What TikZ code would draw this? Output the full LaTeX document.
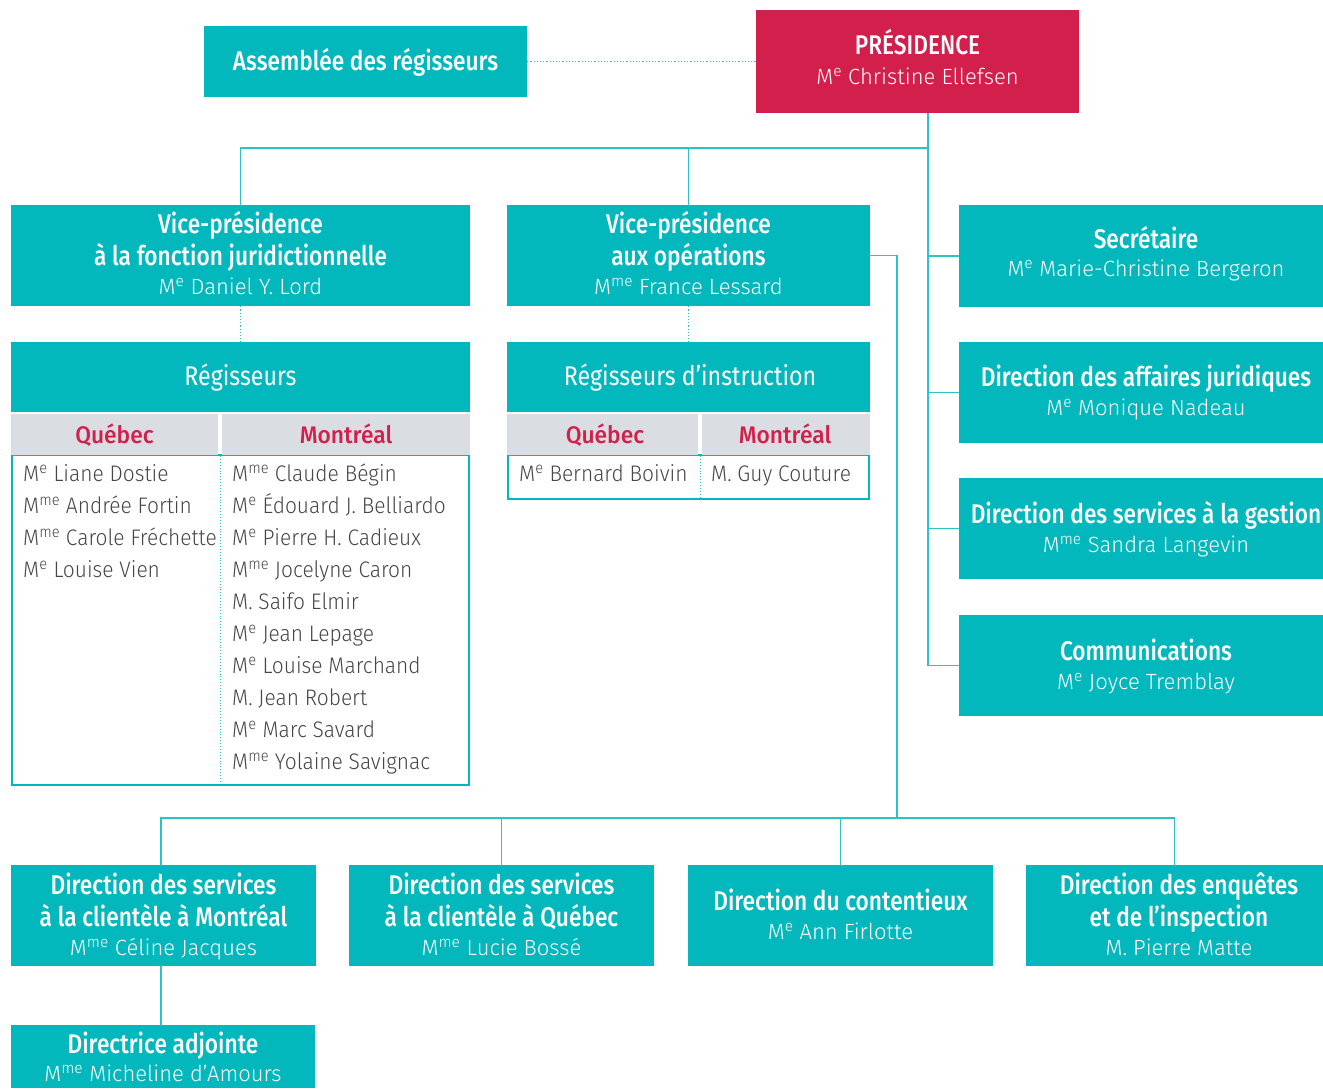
\documentclass[tikz,border=0pt]{standalone}
\usepackage{fontspec}
\setmainfont{Fira Sans}
\newfontfamily\headfont{Fira Sans Medium}[FakeStretch=0.84]
\newfontfamily\ctyfont{Fira Sans Medium}[FakeStretch=0.95]
\newfontfamily\reghfont{Fira Sans}[FakeStretch=0.86]
\newfontfamily\namefont{Fira Sans Light}
\newfontfamily\listfont{Fira Sans Light}[FakeStretch=0.93]
\definecolor{ctl}{HTML}{03B8BD}
\definecolor{cred}{HTML}{D31F4C}
\definecolor{cgray}{HTML}{DADEE2}
\definecolor{ctext}{HTML}{464646}
\definecolor{cline}{HTML}{2CC3C7}
\newcommand{\Me}{M\textsuperscript{e}}
\newcommand{\Mme}{M\textsuperscript{me}}
\begin{document}
\begin{tikzpicture}[x=1pt,y=-1pt,
  box/.style={fill=ctl, inner sep=0, minimum width=#1},
  redbox/.style={fill=cred, inner sep=0, minimum width=#1},
  graybox/.style={fill=cgray, inner sep=0, minimum width=#1, minimum height=41},
  listbox/.style={draw=ctl, line width=1.2pt, inner sep=0, minimum width=#1},
  hd/.style={font=\headfont\fontsize{27}{32}\selectfont, text=white, anchor=base, inner sep=0},
  rh/.style={font=\reghfont\fontsize{27}{32}\selectfont, text=white, anchor=base, inner sep=0},
  nm/.style={font=\namefont\fontsize{22}{26}\selectfont, text=white, anchor=base, inner sep=0},
  li/.style={font=\listfont\fontsize{22.5}{26}\selectfont, text=ctext, anchor=base west, inner sep=0},
  cty/.style={font=\ctyfont\fontsize{24}{26}\selectfont, text=cred, anchor=base, inner sep=0},
  conn/.style={draw=cline, line width=1.5pt},
  dconn/.style={draw=cline, line width=1.2pt, dotted},
]
\useasboundingbox (0,0) rectangle (1323,1088);
% boxes
\node[box=323, minimum height=71] (assem) at (365.5,61.5) {};
\node[redbox=323, minimum height=103] (pres) at (917.5,61.5) {};
\node[box=459, minimum height=101] (vp1) at (240.5,255.5) {};
\node[box=363, minimum height=101] (vp2) at (688.5,255.5) {};
\node[box=364, minimum height=102] (sec) at (1141,256) {};
\node[box=364, minimum height=101] (aff) at (1141,392.5) {};
\node[box=364, minimum height=101] (gest) at (1141,528.5) {};
\node[box=364, minimum height=101] (comm) at (1141,665.5) {};
% Régisseurs
\node[listbox=457, minimum height=330] (reglist) at (240.5,620) {};
\node[box=459, minimum height=70] (reg) at (240.5,377) {};
\node[graybox=207] (regq) at (114.5,434.5) {};
\node[graybox=248] (regm) at (346,434.5) {};
\coordinate (regdt) at (220,456);
\coordinate (regdb) at (220,783);
% Régisseurs d'instruction
\node[listbox=361, minimum height=44] (ridlist) at (688.5,477) {};
\node[box=363, minimum height=70] (rid) at (688.5,377) {};
\node[graybox=191] (ridq) at (602.5,434.5) {};
\node[graybox=168] (ridm) at (786,434.5) {};
\coordinate (riddt) at (700,456);
\coordinate (riddb) at (700,498);
% bottom
\node[box=305, minimum height=101] (d1) at (163.5,915.5) {};
\node[box=305, minimum height=101] (d2) at (501.5,915.5) {};
\node[box=305, minimum height=101] (d3) at (840.5,915.5) {};
\node[box=297, minimum height=101] (d4) at (1174.5,915.5) {};
\node[box=304, minimum height=63] (dadj) at (163,1056.5) {};
% connectors
\coordinate (hub) at (928,148);
\coordinate (vj) at (897,818);
\coordinate (b1) at (161,818);
\draw[dconn] (assem.east) -- (pres.west);
\draw[conn] (pres.south -| hub) -- (hub |- comm.west) -- (comm.west);
\draw[conn] (hub |- sec.west) -- (sec.west);
\draw[conn] (hub |- aff.west) -- (aff.west);
\draw[conn] (hub |- gest.west) -- (gest.west);
\draw[conn] (vp1.north) |- (hub);
\draw[conn] (vp2.north) -- (vp2.north |- hub);
\draw[conn] (vp2.east) -| (vj);
\draw[conn] (b1 |- d1.north) -- (b1) -- (d4.north |- vj) -- (d4.north);
\draw[conn] (d2.north) -- (d2.north |- vj);
\draw[conn] (d3.north) -- (d3.north |- vj);
\draw[conn] (b1 |- d1.south) -- (b1 |- dadj.north);
\draw[dconn] (vp1.south) -- (reg.north);
\draw[dconn] (vp2.south) -- (rid.north);
\draw[draw=cline, line width=0.9pt, dotted] (regdt) -- (regdb);
\draw[draw=cline, line width=0.9pt, dotted] (riddt) -- (riddb);
% texts
\node[hd] (t-assem) at (365.5,70) {Assemblée des régisseurs};
\node[hd] (t-pres1) at (917.5,54) {PRÉSIDENCE};
\node[nm] (t-pres2) at (917.5,84) {\Me{} Christine Ellefsen};
\node[hd] (t-vp1a) at (240.5,233) {Vice-présidence};
\node[hd] (t-vp1b) at (240.5,265) {à la fonction juridictionnelle};
\node[nm] (t-vp1c) at (240.5,294) {\Me{} Daniel Y. Lord};
\node[hd] (t-vp2a) at (688.5,233) {Vice-présidence};
\node[hd] (t-vp2b) at (688.5,265) {aux opérations};
\node[nm] (t-vp2c) at (688.5,294) {\Mme{} France Lessard};
\node[hd] (t-seca) at (1146,248) {Secrétaire};
\node[nm] (t-secb) at (1146,276) {\Me{} Marie-Christine Bergeron};
\node[hd] (t-affa) at (1146,386) {Direction des affaires juridiques};
\node[nm] (t-affb) at (1146,415) {\Me{} Monique Nadeau};
\node[hd] (t-gesta) at (1146,523) {Direction des services à la gestion};
\node[nm] (t-gestb) at (1146,552) {\Mme{} Sandra Langevin};
\node[hd] (t-comma) at (1146,660) {Communications};
\node[nm] (t-commb) at (1146,689) {\Me{} Joyce Tremblay};
\node[rh] (t-reg) at (240.5,385) {Régisseurs};
\node[cty] (t-regq) at (114.5,443) {Québec};
\node[cty] (t-regm) at (346,443) {Montréal};
\node[rh] (t-rid) at (690,385) {Régisseurs d’instruction};
\node[cty] (t-ridq) at (605,443) {Québec};
\node[cty] (t-ridm) at (785,443) {Montréal};
\node[li] (q1) at (23,481) {\Me{} Liane Dostie};
\node[li] (q2) at (23,513) {\Mme{} Andrée Fortin};
\node[li] (q3) at (23,545) {\Mme{} Carole Fréchette};
\node[li] (q4) at (23,577) {\Me{} Louise Vien};
\node[li] (m1) at (232,481) {\Mme{} Claude Bégin};
\node[li] (m2) at (232,513) {\Me{} Édouard J. Belliardo};
\node[li] (m3) at (232,545) {\Me{} Pierre H. Cadieux};
\node[li] (m4) at (232,577) {\Mme{} Jocelyne Caron};
\node[li] (m5) at (232,609) {M. Saifo Elmir};
\node[li] (m6) at (232,641) {\Me{} Jean Lepage};
\node[li] (m7) at (232,673) {\Me{} Louise Marchand};
\node[li] (m8) at (232,705) {M. Jean Robert};
\node[li] (m9) at (232,737) {\Me{} Marc Savard};
\node[li] (m10) at (232,769) {\Mme{} Yolaine Savignac};
\node[li] (rq1) at (519,481) {\Me{} Bernard Boivin};
\node[li] (rm1) at (711,481) {M. Guy Couture};
\node[hd] (t-d1a) at (163.5,894) {Direction des services};
\node[hd] (t-d1b) at (163.5,926) {à la clientèle à Montréal};
\node[nm] (t-d1c) at (163.5,955) {\Mme{} Céline Jacques};
\node[hd] (t-d2a) at (501.5,894) {Direction des services};
\node[hd] (t-d2b) at (501.5,926) {à la clientèle à Québec};
\node[nm] (t-d2c) at (501.5,955) {\Mme{} Lucie Bossé};
\node[hd] (t-d3a) at (840.5,910) {Direction du contentieux};
\node[nm] (t-d3b) at (840.5,939) {\Me{} Ann Firlotte};
\node[hd] (t-d4a) at (1179,894) {Direction des enquêtes};
\node[hd] (t-d4b) at (1179,926) {et de l’inspection};
\node[nm] (t-d4c) at (1179,955) {M. Pierre Matte};
\node[hd] (t-dadja) at (163,1053) {Directrice adjointe};
\node[nm] (t-dadjb) at (163,1081) {\Mme{} Micheline d’Amours};
\end{tikzpicture}
\end{document}
